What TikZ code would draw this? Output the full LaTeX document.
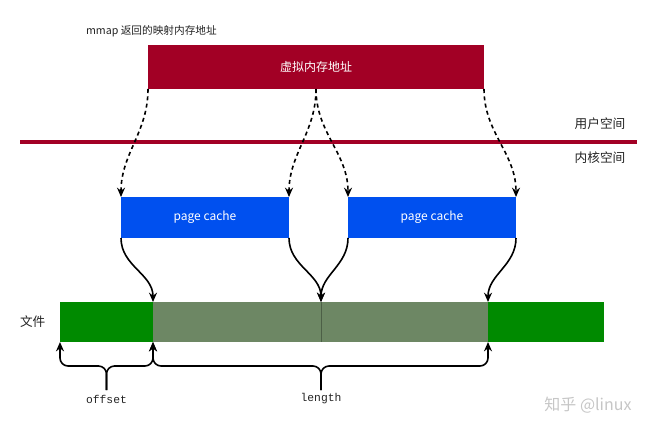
\documentclass[tikz,border=0pt]{standalone}
\usepackage{fontspec}
\setmainfont{Noto Sans CJK SC}
\setmonofont{Liberation Mono}
\usetikzlibrary{arrows.meta,positioning}
\definecolor{vred}{HTML}{A20025}
\definecolor{pblue}{HTML}{0050EF}
\definecolor{fgreen}{HTML}{008A00}
\definecolor{fgray}{HTML}{6D8764}
\definecolor{txt}{HTML}{222222}

\begin{document}
\begin{tikzpicture}[x=0.75pt, y=-0.75pt, >={Stealth[length=7pt,width=6pt]},
    every node/.style={inner sep=0pt, outer sep=0pt},
    box/.style={text=white, font=\fontsize{9}{11}\selectfont},
    seg/.style={minimum height=30pt},
    lbl/.style={text=txt, font=\fontsize{9.5}{11}\selectfont},
    codelbl/.style={text=txt, font=\ttfamily\fontsize{8.5}{10}\selectfont},
    dasharrow/.style={->, dash pattern=on 3pt off 2.5pt, line width=1.2pt},
    solidarrow/.style={->, line width=1.2pt},
    brace/.style={->, line width=1.2pt, rounded corners=6pt}]
    \useasboundingbox (0,0) rectangle (660,430);

    % user space
    \node[lbl, font=\fontsize{8}{10}\selectfont, anchor=west] (mmaplbl) at (86,31) {mmap 返回的映射内存地址};
    \node[box, fill=vred, minimum width=252pt, minimum height=33pt] (vmem) at (316,67) {虚拟内存地址};
    \draw[vred, line width=3pt] (20,142) -- (637,142);
    \node[lbl] (userlbl) at (600,124) {用户空间};
    \node[lbl] (kernlbl) at (600,158) {内核空间};

    % kernel space
    \node[box, fill=pblue, minimum width=126pt, minimum height=30.75pt] (pc1) at (205,217.5) {page cache};
    \node[box, fill=pblue, minimum width=126pt, minimum height=30.75pt] (pc2) [right=44.25pt of pc1] {page cache};

    % file
    \node[seg, fill=fgreen, minimum width=69.75pt] (f0) at (106.5,322) {};
    \node[seg, fill=fgray, minimum width=126pt] (f1) [right=0pt of f0] {};
    \node[seg, fill=fgray, minimum width=125.25pt] (f2) [right=0pt of f1] {};
    \node[seg, fill=fgreen, minimum width=87pt] (f3) [right=0pt of f2] {};
    \draw[fgray!70!black] (f1.north east) -- (f1.south east);
    \node[lbl] (filelbl) [left=11pt of f0] {文件};

    \path[dasharrow] (vmem.south west) edge[out=-90, in=90] (pc1.north west);
    \path[dasharrow] (vmem.south) edge[out=-90, in=90] (pc1.north east);
    \path[dasharrow] (vmem.south) edge[out=-90, in=90] (pc2.north west);
    \path[dasharrow] (vmem.south east) edge[out=-90, in=90] (pc2.north east);

    \path[solidarrow] (pc1.south west) edge[out=-90, in=90] (f1.north west);
    \path[solidarrow] (pc1.south east) edge[out=-90, in=90] (f2.north west);
    \path[solidarrow] (pc2.south west) edge[out=-90, in=90] (f2.north west);
    \path[solidarrow] (pc2.south east) edge[out=-90, in=90] (f3.north west);

    % offset / length
    \node[codelbl] (offlbl) at (106.5,399) {offset};
    \node[codelbl] (lenlbl) at (321,399) {length};
    \coordinate (offstem) at (106.5,390);
    \coordinate (offmid) at (106.5,366);
    \coordinate (lenstem) at (321,390);
    \coordinate (lenmid) at (321,366);
    \draw[brace] (offstem) -- (offmid) -| (f0.south west);
    \draw[brace] (offstem) -- (offmid) -| (f0.south east);
    \draw[brace] (lenstem) -- (lenmid) -| (f1.south west);
    \draw[brace] (lenstem) -- (lenmid) -| (f3.south west);

    \node[text=gray!45, font=\fontsize{12}{14}\selectfont] (wmark) at (588,405) {知乎 @linux};
\end{tikzpicture}
\end{document}
